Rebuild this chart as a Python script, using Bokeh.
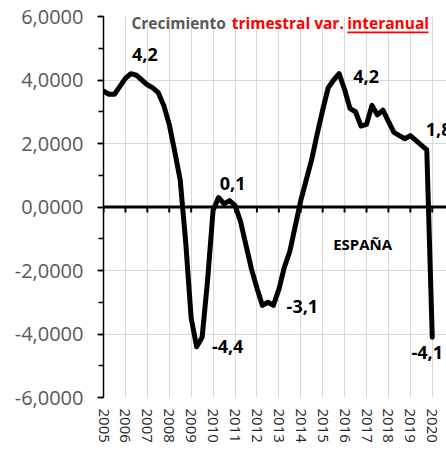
from bokeh.plotting import figure
from bokeh.models import (Range1d, FixedTicker, SingleIntervalTicker, CustomJSTickFormatter,
                          Span, Label, BoxAnnotation, ColumnDataSource)
from bokeh.core.properties import value
from bokeh.embed import file_html
from bokeh.resources import INLINE

# ---- data -------------------------------------------------------------
years = [str(y) for y in range(2005, 2021)]
quarters_per_year = 4
# Spain GDP, year-on-year % change, quarterly 2005Q1 .. 2020Q1
growth = [3.65, 3.55, 3.55, 3.8, 4.05, 4.2, 4.15, 4.0, 3.85, 3.75, 3.6, 3.2,
          2.6, 1.75, 0.85, -1.1, -3.5, -4.4, -4.1, -2.3, -0.1, 0.3, 0.1, 0.2,
          0.05, -0.45, -1.2, -1.95, -2.55, -3.1, -3.0, -3.1, -2.6, -1.9, -1.4, -0.6,
          0.2, 0.85, 1.5, 2.3, 3.05, 3.75, 4.0, 4.2, 3.7, 3.1, 3.0, 2.55,
          2.6, 3.2, 2.9, 3.05, 2.7, 2.35, 2.25, 2.15, 2.25, 2.1, 1.95, 1.8, -4.1]
label_idx = [5, 21, 17, 31, 43, 59, 60]
label_txt = ["4,2", "0,1", "-4,4", "-3,1", "4,2", "1,8", "-4,1"]
y_ticks = [-6, -4, -2, 0, 2, 4, 6]

# ---- figure -----------------------------------------------------------
quarter = list(range(len(growth)))
tick_pos = [quarters_per_year * i for i in range(len(years))]

p = figure(width=446, height=448, output_backend="svg", toolbar_location=None,
           x_range=Range1d(0, 62.6), y_range=Range1d(-6, 6))
p.min_border_left = 103
p.min_border_right = 0
p.min_border_top = 16
p.min_border_bottom = 51
p.outline_line_color = None
p.background_fill_color = "white"

# y axis
ya = p.yaxis[0]
ya.ticker = SingleIntervalTicker(interval=2, num_minor_ticks=2)
ya.formatter = CustomJSTickFormatter(code="return tick.toFixed(4).replace('.', ',');")
ya.major_label_text_font = "Open Sans"
ya.major_label_text_font_size = "20px"
ya.major_label_text_color = "#595959"
ya.major_label_standoff = 14
ya.axis_line_color = "black"
ya.axis_line_width = 1.5
ya.major_tick_line_color = "black"
ya.major_tick_line_width = 1.5
ya.major_tick_out = 6
ya.major_tick_in = 0
ya.minor_tick_line_color = "black"
ya.minor_tick_line_width = 1.5
ya.minor_tick_out = 5
ya.minor_tick_in = 0

# x axis (labels only)
xa = p.xaxis[0]
xa.ticker = FixedTicker(ticks=tick_pos)
xa.major_label_overrides = {t: y for t, y in zip(tick_pos, years)}
xa.major_label_orientation = "vertical"
xa.major_label_text_font = "Open Sans"
xa.major_label_text_font_size = "15px"
xa.major_label_text_color = "#262626"
xa.major_label_standoff = 11
xa.major_tick_out = 0
xa.major_tick_in = 0
xa.minor_tick_out = 0
xa.minor_tick_in = 0
xa.axis_line_color = None
xa.major_tick_line_color = None
xa.minor_tick_line_color = None

p.xgrid.ticker = FixedTicker(ticks=tick_pos)
p.xgrid.grid_line_color = "#d9d9d9"
p.ygrid.ticker = FixedTicker(ticks=y_ticks)
p.ygrid.grid_line_color = "#d9d9d9"

# zero line with tick marks
p.add_layout(Span(location=0, dimension="width", line_color="black", line_width=3))
p.segment(x0=tick_pos, y0=[0] * len(tick_pos), x1=tick_pos, y1=[-0.17] * len(tick_pos),
          line_color="black", line_width=2)

# series
p.line(quarter, growth, line_color="black", line_width=5,
       line_join="round", line_cap="round")

# data labels
lab_x_off = [14, 14, 31, 29, 27, -1, -5]
lab_y_off = [-19, -14, 0, 1, 3, -20, 15]
lab_align = ["center", "center", "center", "center", "center", "left", "center"]
src = ColumnDataSource(dict(x=label_idx, y=[growth[i] for i in label_idx], t=label_txt,
                            xo=lab_x_off, yo=lab_y_off, al=lab_align))
p.text(x="x", y="y", text="t", x_offset="xo", y_offset="yo", text_align="al",
       text_baseline="middle", text_font=value("Open Sans"), text_font_style="bold",
       text_font_size="18px", text_color="black", source=src)

p.add_layout(Label(x=47.3, y=-1.15, text="ESPAÑA", text_align="center",
                   text_baseline="middle", text_font="Open Sans", text_font_style="bold",
                   text_font_size="15px", text_color="black"))

# title inside plot
ty = 5.78
tfs = "15.5px"
p.add_layout(Label(x=5.1, y=ty, text="Crecimiento", text_baseline="middle",
                   text_font="Open Sans", text_font_style="bold", text_font_size=tfs,
                   text_color="#595959"))
p.add_layout(Label(x=23.4, y=ty, text="trimestral var.", text_baseline="middle",
                   text_font="Open Sans", text_font_style="bold", text_font_size=tfs,
                   text_color="#FF0000"))
p.add_layout(Label(x=44.5, y=ty, text="interanual", text_baseline="middle",
                   text_font="Open Sans", text_font_style="bold", text_font_size=tfs,
                   text_color="#FF0000"))
p.add_layout(BoxAnnotation(left=44.5, right=59.3, bottom=5.47, top=5.53,
                           fill_color="#FF0000", fill_alpha=1, line_color=None))

open("out.html", "w").write(file_html(p, INLINE))
